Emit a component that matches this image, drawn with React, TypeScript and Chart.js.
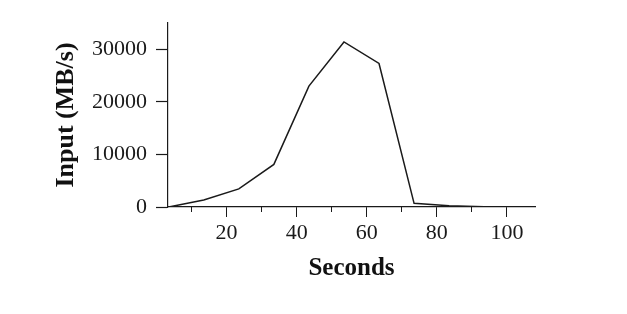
import React, { useEffect, useRef } from "react";
import { Chart, registerables } from "chart.js";

Chart.register(...registerables);

const seconds = [3.5, 13.5, 23.5, 33.5, 43.5, 53.5, 63.5, 73.5, 83.5, 93.5, 103.5];
const inputMBs = [0, 1350, 3450, 8100, 23000, 31400, 27300, 700, 250, 50, 0];
const xMajorTicks = [20, 40, 60, 80, 100];
const xMinorTicks = [10, 30, 50, 70, 90];
const yTicks = [0, 10000, 20000, 30000];
const xRange = [3.3, 108];
const yRange = [0, 35000];

const FONT = "'Liberation Serif', 'Times New Roman', serif";

export default function App() {
  const ref = useRef<HTMLCanvasElement | null>(null);

  useEffect(() => {
    if (!ref.current) return;
    const chart = new Chart(ref.current, {
      type: "line",
      data: {
        datasets: [
          {
            data: seconds.map((s, i) => ({ x: s, y: inputMBs[i] })),
            borderColor: "#1a1a1a",
            borderWidth: 1.5,
            pointRadius: 0,
            tension: 0,
            fill: false,
          },
        ],
      },
      options: {
        animation: false,
        responsive: false,
        layout: { padding: { left: 47, right: 92, top: 23, bottom: 0 } },
        plugins: { legend: { display: false }, tooltip: { enabled: false } },
        scales: {
          x: {
            type: "linear",
            position: "bottom",
            min: xRange[0],
            max: xRange[1],
            afterBuildTicks: (s: any) => {
              s.ticks = xMajorTicks.map((v) => ({ value: v }));
            },
            afterFit: (s: any) => {
              s.height = 314 - 207;
            },
            grid: { drawOnChartArea: false, tickLength: 10, color: "#1a1a1a", tickWidth: 1 },
            border: { display: true, color: "#1a1a1a", width: 1.2 },
            ticks: {
              color: "#1a1a1a",
              padding: 3,
              maxRotation: 0,
              callback: (v: any) => String(v),
              font: { family: FONT, size: 22 },
            },
            title: {
              display: true,
              text: "Seconds",
              color: "#111",
              font: { family: FONT, size: 25, weight: "bold" },
              padding: { top: 0, bottom: 30 },
            },
          },
          xMinor: {
            type: "linear",
            position: { y: 0 },
            min: xRange[0],
            max: xRange[1],
            afterBuildTicks: (s: any) => {
              s.ticks = xMinorTicks.map((v) => ({ value: v }));
            },
            grid: { drawOnChartArea: false, tickLength: 5, color: "#1a1a1a", tickWidth: 1 },
            border: { display: false },
            ticks: { callback: () => "", font: { size: 1 } },
          },
          y: {
            type: "linear",
            position: "left",
            min: yRange[0],
            max: yRange[1],
            afterBuildTicks: (s: any) => {
              s.ticks = yTicks.map((v) => ({ value: v }));
            },
            afterFit: (s: any) => {
              s.width = 168 - 47;
            },
            grid: { drawOnChartArea: false, tickLength: 12, color: "#1a1a1a", tickWidth: 1.2 },
            border: { display: true, color: "#1a1a1a", width: 1.2 },
            ticks: {
              color: "#1a1a1a",
              padding: 9,
              callback: (v: any) => String(v),
              font: { family: FONT, size: 22 },
            },
            title: {
              display: true,
              text: "Input (MB/s)",
              color: "#111",
              font: { family: FONT, size: 26, weight: "bold" },
              padding: { top: 4, bottom: 0 },
            },
          },
        },
      },
    } as any);
    return () => chart.destroy();
  }, []);

  return (
    <div style={{ position: "absolute", left: 0, top: 0, width: 627, height: 314, background: "#fff" }}>
      <canvas ref={ref} width={627} height={314} />
    </div>
  );
}
